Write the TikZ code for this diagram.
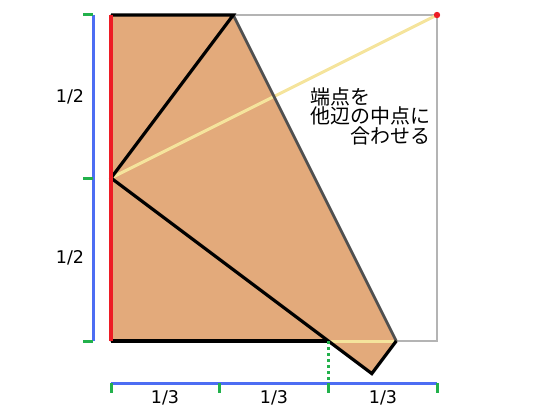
\documentclass[tikz,border=0pt]{standalone}
\usepackage{fontspec}
\setsansfont{DejaVu Sans}
\newfontfamily\jpfont{Noto Sans CJK JP}
\usepackage{tikz}
\usetikzlibrary{calc}
\definecolor{paper_orange}{RGB}{227,170,123}
\definecolor{edge_red}{RGB}{237,28,36}
\definecolor{scale_blue}{RGB}{77,109,243}
\definecolor{tick_green}{RGB}{34,177,76}
\definecolor{frame_gray}{RGB}{180,180,180}
\definecolor{crease_gray}{RGB}{80,80,80}
\definecolor{hidden_yellow}{RGB}{245,228,156}
\tikzset{
  fraction/.style={font=\sffamily\fontsize{17.5}{17.5}\selectfont},
  scaleline/.style={scale_blue, line width=3pt},
  tick/.style={tick_green, line width=3pt}
}

\begin{document}
\begin{tikzpicture}[x=1pt, y=-1pt]
        \useasboundingbox (0,0) rectangle (560,420);
        % corners of the square
        \coordinate (bl) at (111,341);
        \coordinate (tl) at (111,15);
        \coordinate (tr) at (437,15);
        \coordinate (br) at (437,341);
        \coordinate (mid) at (111,178);
        % crease and folded corner
        \coordinate (ctop) at (233.25,15);
        \coordinate (cbot) at (396.25,341);
        \coordinate (tip) at (371.8,373.6);
        \coordinate (cross) at (328.3,341);

        \draw[frame_gray, line width=2.8pt] (tl) rectangle (br);
        \fill[paper_orange] (bl) -- (tl) -- (ctop) -- (cbot) -- (tip) -- (cross) -- cycle;
        \draw[hidden_yellow, line width=3pt] (mid) -- (tr);
        \draw[hidden_yellow, line width=3pt] (cross) -- (cbot);
        \draw[crease_gray, line width=2.8pt] (ctop) -- (cbot);
        \draw[black, line width=3.5pt, line join=miter] (bl) -- (cross);
        \draw[black, line width=3.2pt, line join=miter] (tl) -- (ctop) -- (mid) -- (tip) -- (cbot);
        \draw[edge_red, line width=4pt] (bl) -- (tl);
        \fill[edge_red] (tr) circle (3.2);

        % scale on the left
        \draw[scaleline] (93,15) -- (93,341);
        \foreach \y in {15,178,341}
            \draw[tick] (83,\y) -- (93,\y);
        \node[fraction] (half1) at (70,97) {1/2};
        \node[fraction] (half2) at (70,258) {1/2};

        % scale at the bottom
        \draw[scaleline] (111,383) -- (437,383);
        \foreach \x in {111,219.67,328.33,437}
            \draw[tick] (\x,383) -- (\x,393);
        \node[fraction] (third1) at (165,398) {1/3};
        \node[fraction] (third2) at (274,398) {1/3};
        \node[fraction] (third3) at (383,398) {1/3};
        \draw[tick_green, line width=3pt, dash pattern=on 3pt off 3pt] (cross) -- (328.3,383);

        \node[font=\jpfont\fontsize{20}{19.5}\selectfont, align=left, anchor=north west, inner sep=0pt] (note) at (310,87)
            {端点を\\他辺の中点に\\\hspace*{2em}合わせる};
    \end{tikzpicture}
\end{document}
